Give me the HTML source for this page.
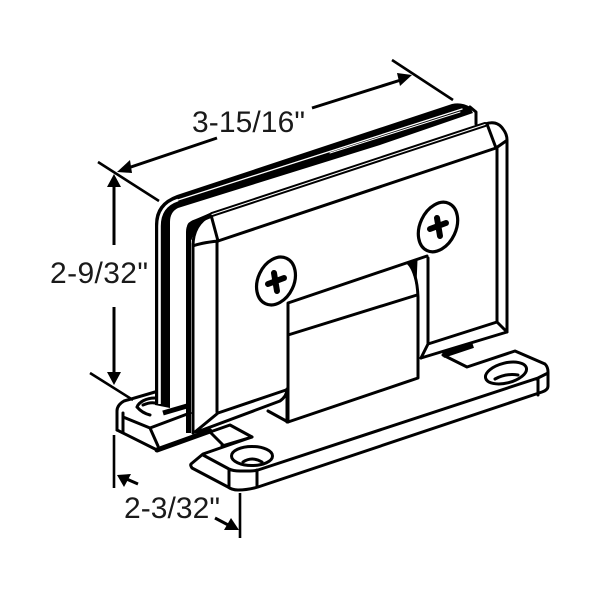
<!DOCTYPE html>
<html><head><meta charset="utf-8"><style>
html,body{margin:0;padding:0;background:#fff}
svg{display:block}
text{font-family:"Liberation Sans",Arial,sans-serif;fill:#1a1a1a;font-size:30px}
</style></head><body>
<svg width="600" height="600" viewBox="0 0 600 600" xmlns="http://www.w3.org/2000/svg">
<rect width="600" height="600" fill="#fff"/>
<g fill="none" stroke="#000" stroke-width="3" stroke-linejoin="round" stroke-linecap="round">
<!-- back plate -->
<path d="M155 405V224Q155 203 177 195L452 104Q462 102 470 107L473 113L380 145L178 208Q170 212 170 222V408Z" fill="#000" stroke="none"/>
<path d="M470 107L476 112V124" stroke-width="3"/>
<path d="M155 405H170" stroke="none"/>
<path d="M159.500 404V226Q159.500 206 178 200" stroke="#fff" stroke-width="2.600" stroke-linecap="butt"/>
<path d="M178 200L462 109" stroke="#fff" stroke-width="1.300"/>
<path d="M330 153L460 112" stroke="#fff" stroke-width="1"/>
<!-- left base -->
<path d="M117 430V411Q117 405 124 401L155 392"/>
<path d="M117 430L157 450L210 431"/>
<path d="M123 417L150 428L158 446M123 413V432M150 428L190 413"/>
<path d="M157 450L210 431" stroke-width="5"/>
<path d="M137 407C139 402 146 398 155 398M137 407Q142 413 150 415M143 405Q150 402 155 403"/>
<path d="M163 413L187 406" stroke-width="5" stroke-linecap="butt"/>
<!-- front plate -->
<path d="M188.500 433V232Q188.500 224 195 222L212 215" stroke-width="5" stroke-linecap="butt"/>
<path d="M187 228Q187 223 190 222L212 212L212 216Q196 222 191.500 240H187Z" fill="#000" stroke="none"/>
<path d="M193 433V244"/>
<path d="M193 246Q193 224 211 215L485 124Q497 120 503 129Q507 134 507 140V332L421 358"/>
<path d="M212 214.500L485 124.500" stroke-width="5"/>
<path d="M217 412V242M193 246Q200 243 218 241L211 215"/>
<path d="M218 241L496 148L487 124M496 148L506 141M497 148V322L428 344M497 322L507 332M428 344V258M428 344L421 358"/>
<path d="M212 214.500L485 124.500" stroke="#fff" stroke-width="1.100"/>
<path d="M218 413L286 390M195 432L218 413M197 432L280 401Q287 396 287 389M287 389V422"/>
<!-- center block -->
<path d="M288 422V303L427 256M288 335L417 295M288 422L418 378V297Q417 272 408 263M268 411L288 422"/>
<path d="M408 263L417 260L416 284Q413 270 408 263Z" fill="#000" stroke-width="1"/>
<!-- screws -->
<ellipse cx="276" cy="281" rx="18" ry="25" transform="rotate(25 276 281)" stroke-width="3.200"/>
<ellipse cx="438" cy="227" rx="18" ry="26" transform="rotate(25 438 227)" stroke-width="3.200"/>
<g stroke-width="6" stroke-linecap="round"><path d="M268 284L284 278M274 273L277 291"/><path d="M430 229L446 223M437 218L440 236"/></g>
<!-- tabs under plate -->
<path d="M210 432L230 425L252 437L222 446M210 432L224 446"/>
<path d="M443 355L467 367L515 351L545 364Q548 367 548 372V386Q548 390 542 392L258 487Q248 490 238 490Q232 490 228 487L192 468Q190 465 191 464L203 454L252 437"/>
<path d="M443 355L473 345" stroke-width="6" stroke-linecap="butt"/>
<path d="M203 455L229 469Q233 471 240 471H250Q254 471 258 470L538 378L548 373M229 470V487M257 470V487M538 378V395"/>
<!-- holes -->
<ellipse cx="252" cy="456" rx="20.500" ry="9.500" stroke-width="3"/>
<path d="M243 462Q252 456 262 462"/>
<ellipse cx="506" cy="373" rx="21" ry="10" transform="rotate(-14 506 373)" stroke-width="3"/>
<path d="M495 379Q506 373 518 375"/>
</g>
<!-- dimensions -->
<g stroke="#000" fill="none" stroke-width="2.600">
<path d="M98 162L159 201M392 60L453 100M90 373L133 400M114 435V488M240 493V538"/>
<path d="M217 138L125 169M312 108L404 79M114 245V180M114 307V380M138 484L122 477M215 518L232 527" stroke-width="3"/>
</g>
<g fill="#000">
<path d="M117 172L130 160L132 173Z"/>
<path d="M412 75L397 73L400 86Z"/>
<path d="M114 174L107 187H121Z"/>
<path d="M114 385L107 372H121Z"/>
<path d="M117 475L131 474L124 487Z"/>
<path d="M239 530L224 530L231 518Z"/>
</g>
<text x="192" y="132" textLength="113">3-15/16"</text>
<text x="50" y="283" textLength="98">2-9/32"</text>
<text x="124" y="518" textLength="96">2-3/32"</text>
</svg>
</body></html>
